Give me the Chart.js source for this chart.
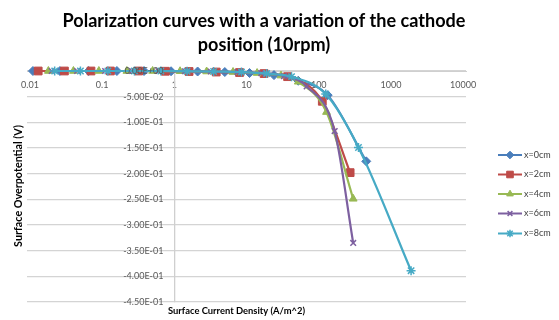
<!DOCTYPE html>
<html><head><meta charset="utf-8">
<script src="https://cdn.jsdelivr.net/npm/chart.js@4.4.1/dist/chart.umd.min.js"></script>
<style>html,body{margin:0;padding:0;background:#fff;}#wrap{width:559px;height:320px;position:relative;}</style>
</head><body><div id="wrap"><canvas id="c"></canvas></div>
<script>
const titleLines = ["Polarization curves with a variation of the cathode", "position (10rpm)"];
const xAxisTitle = "Surface Current Density (A/m^2)";
const yAxisTitle = "Surface Overpotential (V)";
const xTicks = [0.01, 0.1, 1, 10, 100, 1000, 10000];
const xTickLabels = ["0.01", "0.1", "1", "10", "100", "1000", "10000"];
const yTicks = [0, -0.05, -0.1, -0.15, -0.2, -0.25, -0.3, -0.35, -0.4, -0.45];
const yTickLabels = ["0.00E+00", "-5.00E-02", "-1.00E-01", "-1.50E-01", "-2.00E-01", "-2.50E-01", "-3.00E-01", "-3.50E-01", "-4.00E-01", "-4.50E-01"];
const seriesNames = ["x=0cm", "x=2cm", "x=4cm", "x=6cm", "x=8cm"];

const x0cm = [0.011, 0.026, 0.065, 0.16, 0.38, 0.9, 2.1, 5, 11, 24, 52, 133, 455];
const y0cm = [0, 0, 0, 0, 0, -0.0005, -0.001, -0.002, -0.004, -0.008, -0.019, -0.047, -0.176];
const x2cm = [0.013, 0.03, 0.07, 0.13, 0.32, 0.75, 1.6, 3.8, 8, 17.5, 37, 112, 272];
const y2cm = [0, 0, 0, 0, 0, -0.0005, -0.001, -0.002, -0.003, -0.005, -0.011, -0.059, -0.198];
const x4cm = [0.018, 0.04, 0.09, 0.22, 0.5, 1.2, 2.8, 6.5, 14, 30, 52, 128, 300];
const y4cm = [0, 0, 0, 0, 0, -0.0005, -0.001, -0.002, -0.004, -0.009, -0.021, -0.08, -0.249];
const x6cm = [0.02, 0.045, 0.11, 0.26, 0.6, 1.4, 3.2, 7.5, 16, 33, 68, 166, 300];
const y6cm = [0, 0, 0, 0, 0, -0.0005, -0.001, -0.002, -0.004, -0.01, -0.03, -0.117, -0.335];
const x8cm = [0.022, 0.05, 0.12, 0.28, 0.65, 1.5, 3.5, 8.5, 19, 42, 125, 355, 1900];
const y8cm = [0, 0, 0, 0, 0, -0.0005, -0.001, -0.002, -0.005, -0.011, -0.045, -0.149, -0.389];

const colors = ["#4A7EBB", "#BE4B48", "#98B954", "#7D60A0", "#46AAC5"];
const styles = ["rectRot", "rect", "triangle", "crossRot", "star"];
const radii = [4.5, 5.5, 4.5, 4, 4.5];
const xs = [x0cm, x2cm, x4cm, x6cm, x8cm];
const ys = [y0cm, y2cm, y4cm, y6cm, y8cm];

const datasets = seriesNames.map((name, i) => ({
  label: name,
  data: xs[i].map((x, j) => ({x: x, y: ys[i][j]})),
  borderColor: colors[i],
  backgroundColor: colors[i],
  pointBackgroundColor: colors[i],
  pointBorderColor: colors[i],
  pointStyle: styles[i],
  pointRadius: radii[i],
  pointBorderWidth: (styles[i] === 'crossRot' || styles[i] === 'star') ? 1.5 : 1,
  borderWidth: 2.2,
  showLine: true,
  cubicInterpolationMode: 'monotone',
  clip: false,
  order: 4 - i
}));

const FONT = "Lato, 'Open Sans', sans-serif";

function fitFont(ctx, text, weight, width) {
  ctx.font = weight + " 20px " + FONT;
  const w = ctx.measureText(text).width;
  return 20 * width / w;
}

const decor = {
  id: 'decor',
  afterDraw(chart) {
    const ctx = chart.ctx;
    ctx.save();
    // y tick labels (drawn over the data, as in the reference)
    const xScale = chart.scales.x, yScale = chart.scales.y;
    const axisX = xScale.getPixelForValue(1);
    ctx.font = "9px " + FONT;
    ctx.fillStyle = "#595959";
    ctx.textAlign = 'right';
    ctx.textBaseline = 'middle';
    yTicks.forEach((v, i) => {
      ctx.fillText(yTickLabels[i], axisX - 11, yScale.getPixelForValue(v));
    });
    // title
    const ts = fitFont(ctx, titleLines[0], 'bold', 403);
    ctx.font = "bold " + ts.toFixed(2) + "px " + FONT;
    ctx.fillStyle = "#000";
    ctx.textAlign = 'center';
    ctx.fillText(titleLines[0], 264, 21);
    ctx.fillText(titleLines[1], 264, 45);
    // x axis title
    const xs2 = fitFont(ctx, xAxisTitle, 'bold', 137);
    ctx.font = "bold " + xs2.toFixed(2) + "px " + FONT;
    ctx.textAlign = 'left';
    ctx.fillText(xAxisTitle, 168, 311);
    // y axis title
    const ys2 = fitFont(ctx, yAxisTitle, 'bold', 122);
    ctx.font = "bold " + ys2.toFixed(2) + "px " + FONT;
    ctx.translate(19, 186);
    ctx.rotate(-Math.PI / 2);
    ctx.textAlign = 'center';
    ctx.fillText(yAxisTitle, 0, 0);
    ctx.restore();
    // legend
    ctx.save();
    const legY = [155, 174.5, 194, 213.5, 233.5];
    ctx.font = "9px " + FONT;
    ctx.textBaseline = 'middle';
    ctx.textAlign = 'left';
    seriesNames.forEach((name, i) => {
      const y = legY[i];
      ctx.strokeStyle = colors[i];
      ctx.lineWidth = 2;
      ctx.beginPath();
      ctx.moveTo(498, y);
      ctx.lineTo(522, y);
      ctx.stroke();
      ctx.fillStyle = colors[i];
      ctx.lineWidth = (styles[i] === 'crossRot' || styles[i] === 'star') ? 1.5 : 1;
      Chart.helpers.drawPoint(ctx, {pointStyle: styles[i], radius: radii[i] * 0.85, rotation: 0, borderWidth: 1}, 510, y);
      ctx.fillStyle = "#404040";
      ctx.fillText(name, 524, y);
    });
    ctx.restore();
  }
};

new Chart(document.getElementById('c'), {
  type: 'scatter',
  data: {datasets: datasets},
  options: {
    responsive: true,
    maintainAspectRatio: false,
    animation: false,
    layout: {padding: {left: 27, right: 93, top: 71, bottom: 18}},
    plugins: {legend: {display: false}, title: {display: false}, tooltip: {enabled: false}},
    scales: {
      x: {
        type: 'logarithmic',
        min: 0.0091,
        max: 10950,
        position: {y: 0},
        grid: {display: false, drawTicks: false},
        border: {display: true, color: '#cfcfcf', width: 1},
        afterBuildTicks: (s) => { s.ticks = xTicks.map(v => ({value: v})); },
        ticks: {
          autoSkip: false, maxRotation: 0, padding: 9,
          font: {family: FONT, size: 9}, color: '#595959',
          callback: (v) => { const i = xTicks.indexOf(v); return i >= 0 ? xTickLabels[i] : ''; }
        }
      },
      y: {
        type: 'linear',
        min: -0.45,
        max: 0,
        position: {x: 1},
        grid: {color: '#d4d4d4', lineWidth: 1.3, drawTicks: false},
        border: {display: true, color: '#cfcfcf', width: 1.3},
        afterBuildTicks: (s) => { s.ticks = yTicks.map(v => ({value: v})); },
        ticks: {display: false}
      }
    }
  },
  plugins: [decor]
});
</script>
</body></html>
